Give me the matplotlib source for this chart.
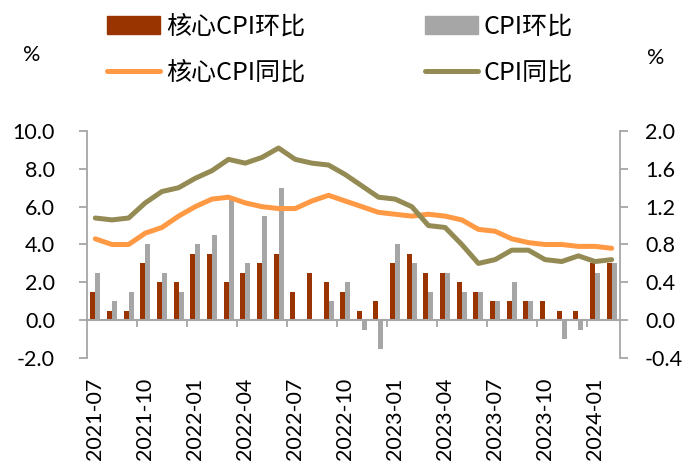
import matplotlib
matplotlib.use("Agg")
import matplotlib.pyplot as plt
import numpy as np
from matplotlib.patches import Patch
from matplotlib.lines import Line2D

# data
months = ["2021-07", "2021-08", "2021-09", "2021-10", "2021-11", "2021-12",
          "2022-01", "2022-02", "2022-03", "2022-04", "2022-05", "2022-06",
          "2022-07", "2022-08", "2022-09", "2022-10", "2022-11", "2022-12",
          "2023-01", "2023-02", "2023-03", "2023-04", "2023-05", "2023-06",
          "2023-07", "2023-08", "2023-09", "2023-10", "2023-11", "2023-12",
          "2024-01", "2024-02"]
core_mom = [0.3, 0.1, 0.1, 0.6, 0.4, 0.4, 0.7, 0.7, 0.4, 0.5, 0.6, 0.7,
            0.3, 0.5, 0.4, 0.3, 0.1, 0.2, 0.6, 0.7, 0.5, 0.5, 0.4, 0.3,
            0.2, 0.2, 0.2, 0.2, 0.1, 0.1, 0.6, 0.6]
cpi_mom = [0.5, 0.2, 0.3, 0.8, 0.5, 0.3, 0.8, 0.9, 1.3, 0.6, 1.1, 1.4,
           0.0, 0.0, 0.2, 0.4, -0.1, -0.3, 0.8, 0.6, 0.3, 0.5, 0.3, 0.3,
           0.2, 0.4, 0.2, 0.0, -0.2, -0.1, 0.5, 0.6]
core_yoy = [4.3, 4.0, 4.0, 4.6, 4.9, 5.5, 6.0, 6.4, 6.5, 6.2, 6.0, 5.9,
            5.9, 6.3, 6.6, 6.3, 6.0, 5.7, 5.6, 5.5, 5.6, 5.5, 5.3, 4.8,
            4.7, 4.3, 4.1, 4.0, 4.0, 3.9, 3.9, 3.8]
cpi_yoy = [5.4, 5.3, 5.4, 6.2, 6.8, 7.0, 7.5, 7.9, 8.5, 8.3, 8.6, 9.1,
           8.5, 8.3, 8.2, 7.7, 7.1, 6.5, 6.4, 6.0, 5.0, 4.9, 4.0, 3.0,
           3.2, 3.7, 3.7, 3.2, 3.1, 3.4, 3.1, 3.2]

C_CORE_BAR = "#993300"
C_CPI_BAR = "#A6A6A6"
C_CORE_LINE = "#FF9944"
C_CPI_LINE = "#948A54"
C_AXIS = "#A6A6A6"

plt.rcParams["font.family"] = ["Lato", "Noto Sans CJK SC", "DejaVu Sans"]

fig = plt.figure(figsize=(6.87, 4.65), dpi=100)
ax = fig.add_axes([0.1266, 0.2301, 0.7759, 0.4882])
ax2 = ax.twinx()

x = np.arange(len(months))
w = 0.3

# bars on right axis
ax2.bar(x - w / 2, core_mom, width=w, color=C_CORE_BAR, zorder=2)
ax2.bar(x + w / 2, cpi_mom, width=w, color=C_CPI_BAR, zorder=2)

# lines on left axis, drawn on top
ax.plot(x, core_yoy, color=C_CORE_LINE, lw=3.6, solid_capstyle="round",
        solid_joinstyle="round", zorder=3)
ax.plot(x, cpi_yoy, color=C_CPI_LINE, lw=3.6, solid_capstyle="round",
        solid_joinstyle="round", zorder=3)
ax.set_zorder(ax2.get_zorder() + 1)
ax.patch.set_visible(False)

ax.set_xlim(-0.5, len(months) - 0.5)
ax.set_ylim(-2, 10)
ax2.set_ylim(-0.4, 2.0)
ax.set_yticks(np.arange(-2, 10.1, 2))
ax.set_yticklabels([f"{v:.1f}" for v in np.arange(-2, 10.1, 2)])
ax2.set_yticks(np.arange(-0.4, 2.01, 0.4))
ax2.set_yticklabels([f"{v:.1f}" for v in np.arange(-0.4, 2.01, 0.4)])

for a in (ax, ax2):
    for s in ("top", "bottom"):
        a.spines[s].set_visible(False)
    for s in ("left", "right"):
        a.spines[s].set_color(C_AXIS)
        a.spines[s].set_linewidth(1.3)
ax.spines["right"].set_visible(False)
ax2.spines["left"].set_visible(False)

ax.tick_params(axis="y", direction="out", length=6, width=1.3, color=C_AXIS,
               labelsize=15.5, pad=17)
ax2.tick_params(axis="y", direction="out", length=6, width=1.3, color=C_AXIS,
                labelsize=15.5, pad=12)

# month labels every 3 months, rotated
ax.set_xticks(x[::3])
ax.set_xticklabels(months[::3], rotation=90, fontsize=15.5)
ax.tick_params(axis="x", length=0, pad=14)

# zero line with tick marks at category boundaries
zero_ax = ax.secondary_xaxis(2 / 12)
zero_ax.spines["bottom"].set_color(C_AXIS)
zero_ax.spines["bottom"].set_linewidth(1.5)
zero_ax.set_xticks(np.arange(2.5, len(months) - 1, 3))
zero_ax.tick_params(axis="x", direction="out", length=5, width=1.3,
                    color=C_AXIS, labelbottom=False)

# percent labels
fig.text(32 / 687, 1 - 55 / 465, "%", fontsize=15.5, ha="center", va="center")
fig.text(656 / 687, 1 - 58 / 465, "%", fontsize=15.5, ha="center", va="center")

# legend, two columns placed separately
leg_font = {"family": ["Noto Sans CJK SC", "DejaVu Sans"], "size": 18}
h1 = [Patch(color=C_CORE_BAR),
      Line2D([], [], color=C_CORE_LINE, lw=3.6, solid_capstyle="round")]
h2 = [Patch(color=C_CPI_BAR),
      Line2D([], [], color=C_CPI_LINE, lw=3.6, solid_capstyle="round")]
common = dict(frameon=False, prop=leg_font, handlelength=2.1,
              handletextpad=0.25, labelspacing=0.78, borderpad=0,
              borderaxespad=0, loc="upper left")
leg1 = fig.legend(h1, ["核心CPI环比", "核心CPI同比"],
                  bbox_to_anchor=(107 / 687, 1 - 14 / 465), **common)
leg2 = fig.legend(h2, ["CPI环比", "CPI同比"],
                  bbox_to_anchor=(425 / 687, 1 - 14 / 465), **common)

fig.savefig("out.png", dpi=100)
